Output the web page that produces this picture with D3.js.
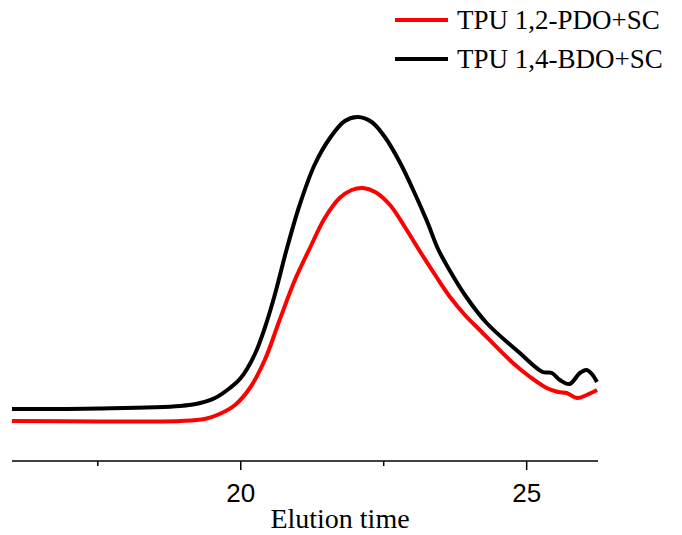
<!DOCTYPE html>
<html><head><meta charset="utf-8">
<script src="https://cdn.jsdelivr.net/npm/d3@7/dist/d3.min.js"></script>
<style>body{margin:0;background:#fff}svg{display:block}</style>
</head><body>
<svg id="c" width="682" height="535"></svg>
<script>
const seriesNames = ["TPU 1,2-PDO+SC", "TPU 1,4-BDO+SC"];
const seriesColors = ["#ff0000", "#000000"];
const pdoX = [16.00,17.54,18.94,19.37,19.63,19.90,20.16,20.42,20.68,20.94,21.21,21.47,21.73,21.94,22.14,22.35,22.61,22.87,23.13,23.40,23.66,23.92,24.18,24.76,25.06,25.35,25.55,25.70,25.88,26.05,26.23];
const pdoY = [40,39.5,40,42,47,56,73,101,141,180,213,243,263,271,273,269,256,234,210,186,164,146,131,98,84,73,69,68,63,66,71];
const bdoX = [16.00,17.54,18.94,19.29,19.55,19.81,20.00,20.24,20.42,20.59,20.80,21.03,21.29,21.56,21.82,22.05,22.29,22.52,22.78,23.04,23.27,23.45,23.66,23.92,24.30,24.88,25.28,25.44,25.58,25.75,25.93,26.05,26.14,26.23];
const bdoY = [52,52.5,55,58,63,73,83,106,133,165,211,256,296,323,340,344,339,324,299,268,238,212,190,166,138,108,89,88,81,77,88,91,87,79];
const majorTicks = [20, 25];
const minorTicks = [17.5, 22.5];

const svg = d3.select("#c");
const x = d3.scaleLinear().domain([16, 26.23]).range([12, 597]);
const y = d3.scaleLinear().domain([0, 400]).range([461, 61]);

const line = d3.line().x(d => x(d[0])).y(d => y(d[1])).curve(d3.curveCatmullRom.alpha(0.5));
const data = [d3.zip(pdoX, pdoY), d3.zip(bdoX, bdoY)];

// axis
const ax = svg.append("g").attr("transform", "translate(0,461)");
ax.append("line").attr("x1", 12).attr("x2", 598).attr("stroke", "#000").attr("stroke-width", 1.5);
ax.selectAll(".maj").data(majorTicks).join("line").attr("x1", d => x(d)).attr("x2", d => x(d))
  .attr("y1", 0).attr("y2", 9).attr("stroke", "#000").attr("stroke-width", 1.5);
ax.selectAll(".min").data(minorTicks).join("line").attr("x1", d => x(d)).attr("x2", d => x(d))
  .attr("y1", 0).attr("y2", 5).attr("stroke", "#000").attr("stroke-width", 1.5);
ax.selectAll("text").data(majorTicks).join("text").attr("x", d => x(d)).attr("y", 41)
  .attr("text-anchor", "middle").attr("font-family", "Liberation Sans, Arial, sans-serif")
  .attr("font-size", 26).text(d => d);

svg.append("text").attr("x", 340).attr("y", 528).attr("text-anchor", "middle")
  .attr("font-family", "Liberation Serif, Times New Roman, serif").attr("font-size", 28).text("Elution time");

svg.selectAll(".ser").data(data).join("path").attr("d", line).attr("fill", "none")
  .attr("stroke", (d, i) => seriesColors[i]).attr("stroke-width", 4).attr("stroke-linejoin", "round");

// legend
const lg = svg.append("g");
const rows = [20, 59];
seriesNames.forEach((n, i) => {
  lg.append("line").attr("x1", 395).attr("x2", 448).attr("y1", rows[i]).attr("y2", rows[i])
    .attr("stroke", seriesColors[i]).attr("stroke-width", 4);
  lg.append("text").attr("x", 457).attr("y", rows[i] + 9).attr("font-family", "Liberation Serif, Times New Roman, serif")
    .attr("font-size", 27).text(n);
});
</script>
</body></html>
